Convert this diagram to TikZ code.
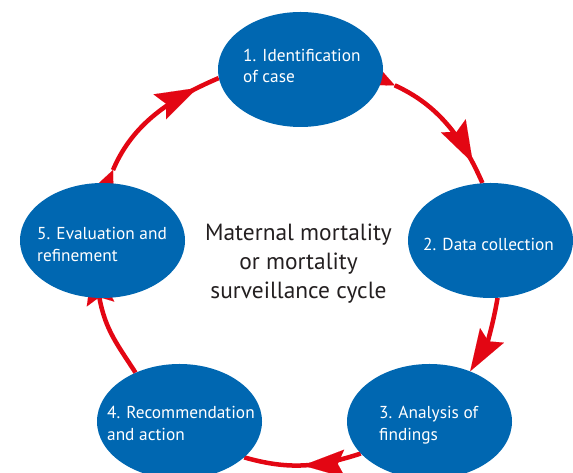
\documentclass[tikz,border=0pt]{standalone}
\usepackage{fontspec}
\setmainfont{PT Sans}
\usetikzlibrary{arrows.meta,decorations.markings,shapes.geometric}
\definecolor{cblue}{RGB}{0,103,177}
\definecolor{cred}{RGB}{227,6,19}
\definecolor{ctext}{RGB}{35,31,32}
\pgfdeclarelayer{back}
\pgfsetlayers{back,main}
\tikzset{
  ell/.style={ellipse, fill=cblue, draw=none, minimum width=165pt, minimum height=115pt, inner sep=0pt},
  lbl/.style={text=white, inner sep=0pt, anchor=base west, font=\fontsize{17.3}{22}\selectfont},
  cyc/.style={draw=cred, line width=4.5pt},
  bigtip/.tip={Stealth[length=42pt,width=28pt,inset=7pt,line width=0.01pt]},
  flare/.tip={Triangle[reversed,length=20pt,width=18pt,line width=0.01pt]},
  midarrow/.style={postaction={decorate}, decoration={markings, mark=at position #1 with {\arrow{bigtip}}}}
}
\begin{document}
\begin{tikzpicture}[x=1pt,y=1pt]
\useasboundingbox (0,0) rectangle (573,473);
\node[ell] (n1) at (300.5,403.5) {};
\node[ell] (n2) at (490.5,232.5) {};
\node[ell] (n3) at (429.5,51.5) {};
\node[ell] (n4) at (179.5,51.5) {};
\node[ell] (n5) at (102.5,232.5) {};

\node[lbl, font=\fontsize{17.3}{21}\selectfont] (t1) at (243,411) {\begin{tabular}[t]{@{}l@{}}1. Identification\\of case\end{tabular}};
\node[lbl] (t2) at (423,222) {2. Data collection};
\node[lbl] (t3) at (379,54) {\begin{tabular}[t]{@{}l@{}}3. Analysis of\\findings\end{tabular}};
\node[lbl] (t4) at (107,54) {\begin{tabular}[t]{@{}l@{}}4. Recommendation\\and action\end{tabular}};
\node[lbl] (t5) at (37,233) {\begin{tabular}[t]{@{}l@{}}5. Evaluation and\\refinement\end{tabular}};
\node[text=ctext, inner sep=0pt, anchor=base, font=\fontsize{23.4}{29}\selectfont] (tc) at (298.5,232)
  {\begin{tabular}[t]{@{}c@{}}Maternal mortality\\or mortality\\surveillance cycle\end{tabular}};

\begin{pgfonlayer}{back}
\draw[cyc, {flare}-, shorten <=-6pt, midarrow=0.85] (n5.85.5) to[out=67, in=203] (n1.186);
\draw[cyc, {flare}-, shorten <=-6pt, midarrow=0.85] (n1.-7.3) to[out=-24.5, in=113.5] (n2.98.6);
\draw[cyc, -{bigtip}] (n2.-83.5) to[out=-99.7, in=58.7] (n3.51.7);
\draw[cyc, midarrow=0.5] (n3.205.7) to[out=198, in=-15.9] (n4.-29.2);
\draw[cyc, -{bigtip}, shorten >=-36pt] (n4.132) to[out=122.7, in=280] (n5.267.6);
\end{pgfonlayer}
\end{tikzpicture}
\end{document}
